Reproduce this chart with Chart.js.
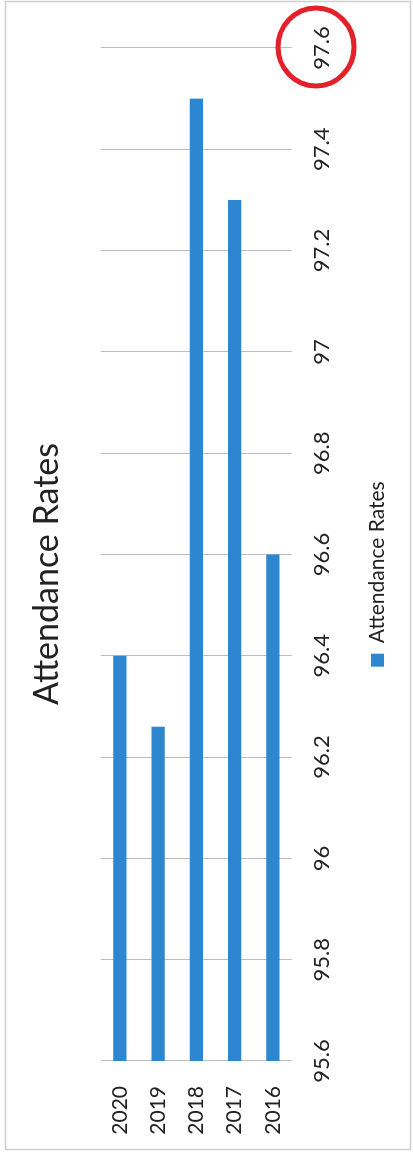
<!DOCTYPE html>
<html>
<head>
<meta charset="utf-8">
<script src="https://cdn.jsdelivr.net/npm/chart.js@4"></script>
<style>
  html, body { margin: 0; padding: 0; background: #fff; }
  body { width: 413px; height: 1157px; overflow: hidden; position: relative; }
  /* the chart is laid out landscape and turned a quarter turn counter-clockwise */
  #frame {
    position: absolute; left: 0; top: 0;
    width: 1157px; height: 413px;
    transform-origin: 0 0;
    transform: translate(0, 1157px) rotate(-90deg);
    background: #fff;
  }
  canvas { display: block; }
</style>
</head>
<body>
<div id="frame"><canvas id="chart" width="1157" height="413"></canvas></div>
<script>
const years = ['2020', '2019', '2018', '2017', '2016'];
const attendanceRates = [96.4, 96.26, 97.5, 97.3, 96.6];
const rateTicks = [95.6, 95.8, 96, 96.2, 96.4, 96.6, 96.8, 97, 97.2, 97.4, 97.6];
const seriesName = 'Attendance Rates';
const highlightedTick = 97.6;

const FONT = 'Lato, "Open Sans", "Noto Sans", sans-serif';
const BAR_BLUE = '#2d86d0';
const TEXT = '#222222';

// let the year labels run into the left margin instead of being clipped
const widenCategoryLabels = {
  id: 'widenCategoryLabels',
  afterLayout(chart) { chart.scales.y.left = 0; }
};

// light frame around the chart plus a hand-drawn style ring on one tick label
const decorations = {
  id: 'decorations',
  afterDraw(chart) {
    const ctx = chart.ctx;
    ctx.save();
    ctx.strokeStyle = '#cfcfcf';
    ctx.lineWidth = 1.5;
    ctx.strokeRect(7.5, 5.5, chart.width - 9, chart.height - 8);

    const xs = chart.scales.x;
    const cx = xs.getPixelForValue(highlightedTick);
    const cy = xs.top + 24;
    ctx.strokeStyle = '#e3212b';
    ctx.lineWidth = 5;
    ctx.beginPath();
    ctx.ellipse(cx + 1, cy, 39, 38, 0, 0, Math.PI * 2);
    ctx.stroke();
    ctx.restore();
  }
};

new Chart(document.getElementById('chart'), {
  type: 'bar',
  data: {
    labels: years,
    datasets: [{
      label: seriesName,
      data: attendanceRates,
      backgroundColor: BAR_BLUE,
      borderWidth: 0,
      barPercentage: 0.7,
      categoryPercentage: 0.5
    }]
  },
  options: {
    indexAxis: 'y',
    responsive: false,
    animation: false,
    devicePixelRatio: 1,
    layout: { padding: { left: 57, right: 48, top: 0, bottom: 15 } },
    scales: {
      x: {
        min: rateTicks[0],
        max: rateTicks[rateTicks.length - 1],
        afterBuildTicks(scale) { scale.ticks = rateTicks.map(v => ({ value: v })); },
        afterFit(scale) { scale.height = 65; },
        grid: { color: '#bdbdbd', lineWidth: 1, drawTicks: false },
        border: { display: false },
        ticks: {
          padding: 17,
          color: TEXT,
          font: { family: FONT, size: 22 },
          callback: v => String(v)
        }
      },
      y: {
        afterFit(scale) { scale.width = 39; },
        grid: { display: false, drawTicks: false },
        border: { display: false },
        ticks: {
          padding: 25,
          color: TEXT,
          font: { family: FONT, size: 21 }
        }
      }
    },
    plugins: {
      title: {
        display: true,
        text: seriesName,
        color: TEXT,
        font: { family: FONT, size: 34, weight: 'normal' },
        padding: { top: 27, bottom: 33 }
      },
      legend: {
        position: 'bottom',
        labels: {
          color: TEXT,
          font: { family: FONT, size: 21 },
          boxWidth: 13,
          boxHeight: 13,
          padding: 10
        }
      },
      tooltip: { enabled: false }
    }
  },
  plugins: [widenCategoryLabels, decorations]
});
</script>
</body>
</html>
